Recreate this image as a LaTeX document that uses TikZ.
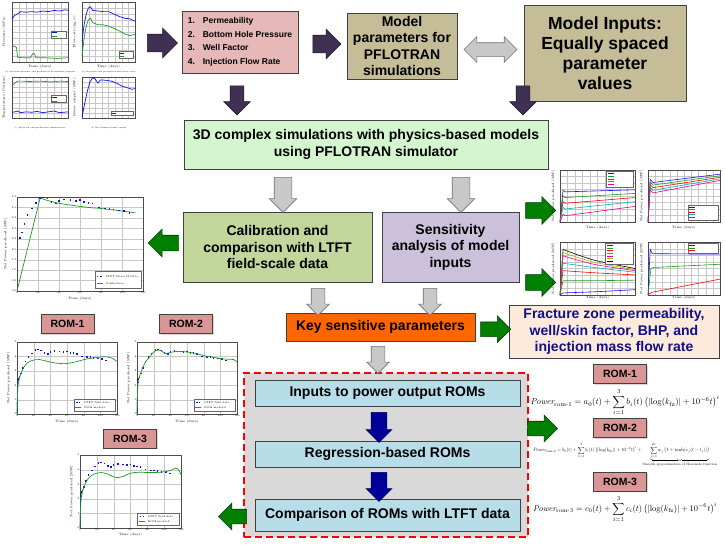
\documentclass[tikz,border=0pt]{standalone}
\usepackage{fontspec}
\usepackage{amsmath}
\newfontfamily\sansfont{Liberation Sans}
\usetikzlibrary{calc, positioning, shapes.arrows, shadows}

\newcommand{\boxfont}{\sansfont\bfseries\fontsize{14}{16.5}\selectfont}
\newcommand{\listfont}{\sansfont\bfseries\fontsize{8.5}{13.5}\selectfont}
\newcommand{\inputfont}{\sansfont\bfseries\fontsize{17.5}{20}\selectfont}
\newcommand{\romfont}{\sansfont\bfseries\fontsize{10.5}{12}\selectfont}
\newcommand{\tinyfont}{\fontsize{3.2}{3.6}\selectfont}
\newcommand{\tickfont}{\fontsize{2.6}{3}\selectfont}
\newcommand{\capfont}{\fontsize{2}{2.4}\selectfont}

\begin{document}
\begin{tikzpicture}[x=1pt, y=-1pt,
    box/.style={draw=black!75, line width=0.6pt, align=center, inner sep=1pt, font=\boxfont,
        drop shadow={opacity=0.3, shadow xshift=1.2pt, shadow yshift=-1.2pt}},
    romlabel/.style={box, fill=romPink, minimum width=53pt, minimum height=19pt, font=\romfont},
    blockarrow/.style n args={3}{single arrow, inner sep=0pt, minimum height=#1,
        inner ysep=#2, single arrow head extend=#3, single arrow head indent=0pt, line width=0.6pt},
    swaparrow/.style n args={3}{double arrow, inner sep=0pt, minimum height=#1,
        inner ysep=#2, double arrow head extend=#3, double arrow head indent=0pt, line width=0.6pt},
    purplefill/.style={draw=arrowPurple!60!black, fill=arrowPurple},
    grayfill/.style={draw=black!55, fill=arrowGray},
    greenfill/.style={draw=arrowGreen!45!black, fill=arrowGreen},
    bluefill/.style={draw=arrowBlue!60!black, fill=arrowBlue},
    plotgrid/.style={black!22, line width=0.2pt},
    axisframe/.style={black!70, line width=0.3pt},
    datacurve/.style={line width=0.7pt},
    axislabel/.style={font=\tinyfont, inner sep=0.5pt},
    ticklabel/.style={font=\tickfont, inner sep=0.4pt},
    legendbox/.style={draw=black!60, fill=white, line width=0.2pt}
]
    % Colours
    \definecolor{listPink}{HTML}{E6B9B8}
    \definecolor{paramTan}{HTML}{C4BD97}
    \definecolor{simGreen}{HTML}{D3F6CF}
    \definecolor{calibGreen}{HTML}{C3D69B}
    \definecolor{sensLilac}{HTML}{CCC1DA}
    \definecolor{keyOrange}{HTML}{FF6600}
    \definecolor{fracPeach}{HTML}{FDEADA}
    \definecolor{fracBlue}{HTML}{10108A}
    \definecolor{romBlue}{HTML}{B7DEE8}
    \definecolor{romPink}{HTML}{D99694}
    \definecolor{panelGray}{HTML}{D9D9D9}
    \definecolor{arrowPurple}{HTML}{403152}
    \definecolor{arrowGray}{HTML}{C8C8C8}
    \definecolor{arrowGreen}{HTML}{008000}
    \definecolor{arrowBlue}{HTML}{000099}
    \definecolor{lineGreen}{HTML}{1E9B1E}
    \definecolor{dataBlue}{HTML}{1010F0}
    \definecolor{lineTeal}{HTML}{00B0B0}
    \definecolor{lineOlive}{HTML}{B5B500}

    % Page
    \path[use as bounding box, fill=white] (0,0) rectangle (725,544);

    % Helper for the grid and frame of a plot in unit coordinates
    \def\plotframe#1#2{%
        \draw[plotgrid] (0,0) grid[xstep=#1, ystep=#2] (1,1);
        \draw[axisframe] (0,0) rectangle (1,1);}

    % Field data of the LTFT (days/MW)
    \def\fielddata{3/2.55, 5/2.8, 7/3.2, 10/3.65, 14/3.95, 18/4.2, 22/4.45, 25/4.48, 29/4.42,
        33/4.25, 37/4.18, 40/4.3, 45/4.38, 51/4.35, 56/4.32, 60/4.35, 64/4.25, 68/4.22,
        72/4.18, 78/4.0, 84/3.95, 88/3.95, 92/3.9, 97/3.85, 102/3.82, 107/3.72}

    % ---------------- Top-left plots of the simulation outputs ----------------
    \begin{scope}[shift={(12,62)}, x=56pt, y=60pt]
        \plotframe{0.125}{0.1}
        \draw[datacurve, dataBlue] plot coordinates {(0,0.72) (0.05,0.78) (0.1,0.8) (0.15,0.84)
            (0.25,0.83) (0.35,0.84) (0.45,0.83) (0.55,0.85) (0.65,0.84) (0.75,0.86) (0.85,0.85) (0.95,0.87) (1,0.86)};
        \draw[datacurve, lineGreen] plot coordinates {(0,0.24) (0.04,0.27) (0.08,0.24) (0.1,0.08) (0.2,0.07)
            (0.33,0.07) (0.37,0.14) (0.4,0.14) (0.43,0.07) (0.6,0.07) (0.8,0.06) (1,0.07)};
        \draw[legendbox] (0.7,0.4) rectangle (0.97,0.52);
        \draw[dataBlue, line width=0.5pt] (0.72,0.49) -- (0.8,0.49);
        \draw[lineGreen, line width=0.5pt] (0.72,0.43) -- (0.8,0.43);
        \node[axislabel, rotate=90] at (-0.14,0.5) {Pressure (MPa)};
        \node[axislabel] at (0.5,-0.07) {Time (days)};
        \node[font=\capfont] at (0.5,-0.17) {(a) Injection pressure and production bottomhole pressure};
    \end{scope}
    \begin{scope}[shift={(82,62)}, x=53pt, y=60pt]
        \plotframe{0.125}{0.1}
        \draw[datacurve, dataBlue] plot coordinates {(0,0.35) (0.04,0.62) (0.08,0.8) (0.12,0.9) (0.16,0.92)
            (0.2,0.86) (0.3,0.85) (0.4,0.84) (0.5,0.84) (0.6,0.8) (0.7,0.76) (0.8,0.73) (0.9,0.72) (1,0.68)};
        \draw[datacurve, lineGreen] plot coordinates {(0,0.1) (0.04,0.4) (0.08,0.6) (0.12,0.7) (0.16,0.73)
            (0.2,0.66) (0.3,0.62) (0.4,0.62) (0.5,0.6) (0.6,0.56) (0.7,0.52) (0.8,0.47) (0.9,0.44) (1,0.46)};
        \draw[legendbox] (0.7,0.06) rectangle (0.97,0.18);
        \draw[dataBlue, line width=0.5pt] (0.72,0.15) -- (0.8,0.15);
        \draw[lineGreen, line width=0.5pt] (0.72,0.09) -- (0.8,0.09);
        \node[axislabel, rotate=90] at (-0.14,0.5) {Flow rate (kg/s)};
        \node[axislabel] at (0.5,-0.07) {Time (days)};
        \node[font=\capfont] at (0.5,-0.17) {(b) Injection and production mass flow rates};
    \end{scope}
    \begin{scope}[shift={(12,118)}, x=56pt, y=41pt]
        \plotframe{0.125}{0.125}
        \draw[datacurve, lineGreen] plot coordinates {(0,0.78) (0.05,0.85) (0.1,0.9) (0.2,0.9) (0.3,0.89)
            (0.5,0.9) (0.7,0.88) (0.85,0.9) (1,0.89)};
        \draw[datacurve, dataBlue] plot coordinates {(0,0.14) (0.05,0.15) (0.1,0.17) (0.15,0.13) (0.25,0.15)
            (0.35,0.14) (0.45,0.16) (0.55,0.13) (0.65,0.15) (0.75,0.17) (0.85,0.13) (1,0.15)};
        \draw[legendbox] (0.7,0.38) rectangle (0.97,0.55);
        \draw[dataBlue, line width=0.5pt] (0.72,0.51) -- (0.8,0.51);
        \draw[lineGreen, line width=0.5pt] (0.72,0.42) -- (0.8,0.42);
        \node[axislabel, rotate=90] at (-0.14,0.5) {Temperature (Celsius)};
        \node[font=\capfont] at (0.5,-0.24) {(c) Injection and production temperatures};
    \end{scope}
    \begin{scope}[shift={(82,118)}, x=53pt, y=41pt]
        \plotframe{0.125}{0.125}
        \draw[datacurve, dataBlue] plot coordinates {(0,0.02) (0.05,0.35) (0.1,0.65) (0.15,0.88) (0.2,0.98)
            (0.25,0.95) (0.3,0.85) (0.35,0.93) (0.45,0.92) (0.55,0.9) (0.65,0.85) (0.75,0.78) (0.85,0.74)
            (0.95,0.7) (1,0.72)};
        \draw[legendbox] (0.55,0.06) rectangle (0.97,0.17);
        \draw[dataBlue, line width=0.5pt] (0.57,0.115) -- (0.65,0.115);
        \node[axislabel, rotate=90] at (-0.14,0.5) {Power output (MW)};
        \node[font=\capfont] at (0.5,-0.24) {(d) Net thermal power output};
    \end{scope}

    % ---------------- Boxes of the workflow ----------------
    \node[box, fill=listPink, minimum width=116pt, minimum height=62pt, align=left, font=\listfont] (list) at (240,42)
        {\makebox[15pt][l]{1.}Permeability\\
         \makebox[15pt][l]{2.}Bottom Hole Pressure\\
         \makebox[15pt][l]{3.}Well Factor\\
         \makebox[15pt][l]{4.}Injection Flow Rate};
    \node[box, fill=paramTan, minimum width=110pt, minimum height=66pt] (params) at (402,46)
        {Model\\parameters for\\PFLOTRAN\\simulations};
    \node[box, fill=paramTan, minimum width=162pt, minimum height=96pt, font=\inputfont] (inputs) at (605,53)
        {Model Inputs:\\Equally spaced\\parameter\\values};

    \node[box, fill=simGreen, minimum width=364pt, minimum height=49pt] (sim) at (366,144.5)
        {3D complex simulations with physics-based models\\using PFLOTRAN simulator};
    \node[box, fill=calibGreen, minimum width=189pt, minimum height=70pt] (calib) at (277.5,247)
        {Calibration and\\comparison with LTFT\\field-scale data};
    \node[box, fill=sensLilac, minimum width=137pt, minimum height=70pt] (sens) at (450.5,247)
        {Sensitivity\\analysis of model\\inputs};
    \node[box, fill=keyOrange, minimum width=189pt, minimum height=28pt] (key) at (380.5,327)
        {Key sensitive parameters};
    \node[box, fill=fracPeach, text=fracBlue, minimum width=210pt, minimum height=53pt] (frac) at (614,331.5)
        {Fracture zone permeability,\\well/skin factor, BHP, and\\injection mass flow rate};

    % Dashed panel of the ROM steps
    \node[draw=red, fill=panelGray, line width=1.8pt, dash pattern=on 7pt off 4pt,
        minimum width=284pt, minimum height=164pt] (panel) at (386,455) {};
    \node[box, fill=romBlue, minimum width=265pt, minimum height=26pt] (inputsrom) at (387.5,393)
        {Inputs to power output ROMs};
    \node[box, fill=romBlue, minimum width=265pt, minimum height=26pt] (regress) at (387.5,454)
        {Regression-based ROMs};
    \node[box, fill=romBlue, minimum width=265pt, minimum height=32pt] (compare) at (387.5,515)
        {Comparison of ROMs with LTFT data};

    % ---------------- Block arrows ----------------
    \node[blockarrow={30pt}{8.5pt}{6pt}, purplefill] (a1) at (158,43) {};
    \node[blockarrow={28pt}{8.5pt}{6pt}, purplefill] (a2) at ($(list.east)!0.5!(params.west)$) {};
    \node[swaparrow={53pt}{6.5pt}{6pt}, grayfill] (a3) at ($(params.east)!0.5!(inputs.west)$) {};
    \node[blockarrow={29pt}{6.5pt}{6.5pt}, purplefill, rotate=-90] (a4) at (237,97) {};
    \node[blockarrow={29pt}{6.5pt}{6.5pt}, purplefill, rotate=-90] (a5) at (523,97) {};

    \node[blockarrow={35pt}{8.5pt}{5pt}, grayfill, rotate=-90] (a6) at (283,190.5) {};
    \node[blockarrow={35pt}{8.5pt}{5pt}, grayfill, rotate=-90] (a7) at (461,190.5) {};
    \node[blockarrow={30pt}{7.5pt}{6pt}, greenfill, rotate=180] (a8) at ($(calib.west)+(-15.5,-4)$) {};
    \node[blockarrow={30pt}{7.5pt}{6pt}, greenfill] (a9) at ($(sens.east)+(17.5,-36.5)$) {};
    \node[blockarrow={30pt}{7.5pt}{6pt}, greenfill] (a10) at ($(sens.east)+(17.5,35.5)$) {};

    \node[blockarrow={27pt}{6.5pt}{4.5pt}, grayfill, rotate=-90] (a11) at (318,298.5) {};
    \node[blockarrow={27pt}{6.5pt}{4.5pt}, grayfill, rotate=-90] (a12) at (430,298.5) {};
    \node[blockarrow={30pt}{7pt}{6pt}, greenfill] (a13) at ($(key.east)!0.5!(frac.west)$) {};
    \node[blockarrow={27pt}{6.5pt}{4.5pt}, grayfill, rotate=-90] (a14) at (378,356.5) {};

    \node[blockarrow={30pt}{7.5pt}{5pt}, bluefill, rotate=-90] (a15) at ($(inputsrom.south)!0.5!(regress.north)+(-8.5,0)$) {};
    \node[blockarrow={29pt}{7.5pt}{5pt}, bluefill, rotate=-90] (a16) at ($(regress.south)!0.5!(compare.north)+(-8.5,0)$) {};
    \node[blockarrow={30pt}{7pt}{6pt}, greenfill] (a17) at ($(panel.east)+(10,-26.5)$) {};
    \node[blockarrow={28pt}{7pt}{6pt}, greenfill, rotate=180] (a18) at ($(compare.west)+(-18.5,1.5)$) {};

    % ---------------- Calibration plot ----------------
    \begin{scope}[shift={(17,291)}, x=1.05pt, y=20.89pt]
        \draw[plotgrid] (0,0) grid[xstep=20, ystep=0.5] (120,4.5);
        \draw[axisframe] (0,0) rectangle (120,4.5);
        \draw[datacurve, lineGreen] (0,0) -- (22,4.45) plot[smooth] coordinates {(22,4.45) (30,4.32) (40,4.2)
            (50,4.12) (60,4.05) (70,3.99) (80,3.95) (90,3.89) (100,3.83) (113,3.74)};
        \foreach \t/\p in \fielddata
            \fill[dataBlue] (\t,\p) ++(-0.8pt,-0.8pt) rectangle ++(1.6pt,1.6pt);
        \foreach \t in {0,20,...,120}
            \node[ticklabel, anchor=north] at (\t,0) {\t};
        \foreach \p in {0.0,0.5,1.0,1.5,2.0,2.5,3.0,3.5,4.0,4.5}
            \node[ticklabel, anchor=east] at (0,\p) {\p};
        \draw[legendbox] (74,0.12) rectangle (118,0.95);
        \fill[dataBlue] (77,0.7) ++(-0.6pt,-0.6pt) rectangle ++(1.2pt,1.2pt);
        \fill[dataBlue] (80,0.7) ++(-0.6pt,-0.6pt) rectangle ++(1.2pt,1.2pt);
        \draw[lineGreen, line width=0.6pt] (76,0.35) -- (82,0.35);
        \node[ticklabel, anchor=west] at (84,0.7) {LTFT Phase II Data};
        \node[ticklabel, anchor=west] at (84,0.35) {Calibration};
        \node[axislabel, rotate=90] at (-11,2.25) {Net Power produced [MW]};
        \node[axislabel] at (60,-0.35) {Time (days)};
    \end{scope}

    % ---------------- Sensitivity plots ----------------
    \begin{scope}[shift={(560,222)}, x=75pt, y=52pt]
        \plotframe{0.1}{0.125}
        \foreach \c/\a/\b in {dataBlue/0.58/0.62, lineGreen/0.47/0.55, red/0.36/0.47, lineTeal/0.25/0.39, magenta/0.12/0.3}
            \draw[\c, line width=0.6pt] (0,0) -- (0.04,\a+0.03) -- (0.07,\a) -- (1,\b);
        \draw[legendbox] (0.62,0.68) rectangle (0.97,0.97);
        \foreach \c [count=\k] in {dataBlue, lineGreen, red, lineTeal, magenta}
            \draw[\c, line width=0.5pt] (0.64,{0.98-0.05*\k}) -- (0.72,{0.98-0.05*\k});
        \node[axislabel, rotate=90] at (-0.09,0.5) {Net Power produced [MW]};
        \node[axislabel] at (0.5,-0.1) {Time (days)};
    \end{scope}
    \begin{scope}[shift={(648,222)}, x=72pt, y=52pt]
        \plotframe{0.1}{0.125}
        \foreach \c/\a/\b in {dataBlue/0.76/0.92, lineGreen/0.71/0.89, red/0.66/0.86, lineTeal/0.61/0.83, magenta/0.56/0.8}
            \draw[\c, line width=0.6pt] (0,0) -- (0.03,\a+0.06) -- (0.07,\a) -- (1,\b);
        \draw[legendbox] (0.55,0.04) rectangle (0.97,0.33);
        \foreach \c [count=\k] in {dataBlue, lineGreen, red, lineTeal, magenta}
            \draw[\c, line width=0.5pt] (0.57,{0.34-0.05*\k}) -- (0.65,{0.34-0.05*\k});
        \node[axislabel, rotate=90] at (-0.09,0.5) {Net Power produced [MW]};
        \node[axislabel] at (0.5,-0.1) {Time (days)};
    \end{scope}
    \begin{scope}[shift={(560,295)}, x=75pt, y=53pt]
        \plotframe{0.1}{0.125}
        \foreach \c/\a/\m/\b in {black/0.86/0.66/0.5, lineOlive/0.8/0.62/0.48, magenta/0.74/0.58/0.46,
                lineTeal/0.6/0.52/0.43, red/0.46/0.42/0.38, lineGreen/0.27/0.27/0.28, dataBlue/0.04/0.06/0.1}
            \draw[\c, line width=0.6pt] (0,0) -- (0.04,\a) plot[smooth] coordinates {(0.04,\a) (0.45,\m) (1,\b)};
        \draw[legendbox] (0.6,0.58) rectangle (0.97,0.98);
        \foreach \c [count=\k] in {dataBlue, lineGreen, red, lineTeal, magenta, lineOlive, black}
            \draw[\c, line width=0.5pt] (0.62,{0.99-0.05*\k}) -- (0.7,{0.99-0.05*\k});
        \node[axislabel, rotate=90] at (-0.09,0.5) {Net Power produced [MW]};
        \node[axislabel] at (0.5,-0.06) {Time (days)};
    \end{scope}
    \begin{scope}[shift={(648,295)}, x=72pt, y=53pt]
        \plotframe{0.1}{0.125}
        \draw[dataBlue, line width=0.6pt] (0,0) -- (0.03,0.86) -- (0.06,0.78) -- (1,0.77);
        \draw[lineGreen, line width=0.6pt] (0,0) -- (0.04,0.5) -- (0.08,0.52) -- (1,0.58);
        \draw[red, line width=0.6pt] (0,0) -- (0.05,0.05) -- (1,0.3);
        \draw[legendbox] (0.55,0.8) rectangle (0.97,0.98);
        \foreach \c [count=\k] in {dataBlue, lineGreen, red}
            \draw[\c, line width=0.5pt] (0.57,{0.99-0.05*\k}) -- (0.65,{0.99-0.05*\k});
        \node[axislabel, rotate=90] at (-0.09,0.5) {Net Power produced [MW]};
        \node[axislabel] at (0.5,-0.06) {Time (days)};
    \end{scope}

    % ---------------- ROM plots on the left ----------------
    \node[romlabel] (rom1left) at (67.5,324) {ROM-1};
    \node[romlabel] (rom2left) at (186,324) {ROM-2};
    \node[romlabel] (rom3left) at (130,438.5) {ROM-3};

    \begin{scope}[shift={(17,414)}, x=0.8333pt, y=14.4pt]
        \draw[plotgrid] (0,0) grid[xstep=20, ystep=1] (120,5);
        \draw[axisframe] (0,0) rectangle (120,5);
        \draw[dataBlue, line width=0.5pt] (0,0) -- (0.5,1.9);
        \foreach \t/\p in {0.5/1.9, 1/2.2, 1.5/2.35, 2/2.45}
            \fill[dataBlue] (\t,\p) ++(-0.8pt,-0.8pt) rectangle ++(1.6pt,1.6pt);
        \foreach \t/\p in \fielddata
            \fill[dataBlue] (\t,\p) ++(-0.8pt,-0.8pt) rectangle ++(1.6pt,1.6pt);
        \draw[datacurve, lineGreen] plot[smooth] coordinates {(0,0) (1,1.8) (3,2.5) (6,3.0) (10,3.4) (15,3.65)
            (20,3.75) (27,3.78) (35,3.68) (45,3.55) (58,3.5) (70,3.62) (82,3.8) (95,3.92) (105,3.98) (113,3.9) (120,3.65)};
        \draw[legendbox] (68,0.2) rectangle (118,1.05);
        \fill[dataBlue] (72,0.8) ++(-0.6pt,-0.6pt) rectangle ++(1.2pt,1.2pt);
        \fill[dataBlue] (75,0.8) ++(-0.6pt,-0.6pt) rectangle ++(1.2pt,1.2pt);
        \draw[lineGreen, line width=0.6pt] (70,0.45) -- (77,0.45);
        \node[ticklabel, anchor=west] at (80,0.8) {LTFT field data};
        \node[ticklabel, anchor=west] at (80,0.45) {ROM model-1};
        \foreach \t in {0,20,...,120}
            \node[ticklabel, anchor=north] at (\t,0) {\t};
        \foreach \p in {0,...,5}
            \node[ticklabel, anchor=east] at (0,\p) {\p};
        \node[axislabel, rotate=90] at (-10,2.5) {Net Power produced [MW]};
        \node[axislabel] at (60,-0.5) {Time (days)};
    \end{scope}
    \begin{scope}[shift={(137,414)}, x=0.8333pt, y=14.4pt]
        \draw[plotgrid] (0,0) grid[xstep=20, ystep=1] (120,5);
        \draw[axisframe] (0,0) rectangle (120,5);
        \draw[dataBlue, line width=0.5pt] (0,0) -- (0.5,1.9);
        \foreach \t/\p in {0.5/1.9, 1/2.2, 1.5/2.35, 2/2.45}
            \fill[dataBlue] (\t,\p) ++(-0.8pt,-0.8pt) rectangle ++(1.6pt,1.6pt);
        \foreach \t/\p in \fielddata
            \fill[dataBlue] (\t,\p) ++(-0.8pt,-0.8pt) rectangle ++(1.6pt,1.6pt);
        \draw[datacurve, lineGreen] plot[smooth] coordinates {(0,0) (1,2.0) (3,2.6) (6,3.1) (10,3.6) (15,3.95)
            (20,4.3) (25,4.45) (30,4.35) (35,4.2) (40,4.28) (50,4.35) (60,4.3) (70,4.22) (80,4.05) (90,3.95)
            (100,3.85) (110,3.8) (116,3.78) (120,3.6)};
        \draw[legendbox] (68,0.2) rectangle (118,1.05);
        \fill[dataBlue] (72,0.8) ++(-0.6pt,-0.6pt) rectangle ++(1.2pt,1.2pt);
        \fill[dataBlue] (75,0.8) ++(-0.6pt,-0.6pt) rectangle ++(1.2pt,1.2pt);
        \draw[lineGreen, line width=0.6pt] (70,0.45) -- (77,0.45);
        \node[ticklabel, anchor=west] at (80,0.8) {LTFT field data};
        \node[ticklabel, anchor=west] at (80,0.45) {ROM model-2};
        \foreach \t in {0,20,...,120}
            \node[ticklabel, anchor=north] at (\t,0) {\t};
        \foreach \p in {0,...,5}
            \node[ticklabel, anchor=east] at (0,\p) {\p};
        \node[axislabel, rotate=90] at (-10,2.5) {Net Power produced [MW]};
        \node[axislabel] at (60,-0.5) {Time (days)};
    \end{scope}
    \begin{scope}[shift={(80,528)}, x=0.8417pt, y=14.6pt]
        \draw[plotgrid] (0,0) grid[xstep=20, ystep=1] (120,5);
        \draw[axisframe] (0,0) rectangle (120,5);
        \draw[dataBlue, line width=0.5pt] (0,0) -- (0.5,1.9);
        \foreach \t/\p in {0.5/1.9, 1/2.2, 1.5/2.35, 2/2.45}
            \fill[dataBlue] (\t,\p) ++(-0.8pt,-0.8pt) rectangle ++(1.6pt,1.6pt);
        \foreach \t/\p in \fielddata
            \fill[dataBlue] (\t,\p) ++(-0.8pt,-0.8pt) rectangle ++(1.6pt,1.6pt);
        \draw[datacurve, lineGreen] plot[smooth] coordinates {(0,0) (1,1.8) (3,2.5) (6,3.0) (10,3.4) (15,3.65)
            (20,3.75) (25,3.8) (32,3.72) (40,3.5) (45,3.45) (52,3.55) (60,3.75) (70,3.82) (80,3.8) (90,3.8)
            (100,3.85) (108,3.95) (113,4.1) (117,4.0) (120,3.65)};
        \draw[legendbox] (68,0.2) rectangle (118,1.05);
        \fill[dataBlue] (72,0.8) ++(-0.6pt,-0.6pt) rectangle ++(1.2pt,1.2pt);
        \fill[dataBlue] (75,0.8) ++(-0.6pt,-0.6pt) rectangle ++(1.2pt,1.2pt);
        \draw[lineGreen, line width=0.6pt] (70,0.45) -- (77,0.45);
        \node[ticklabel, anchor=west] at (80,0.8) {LTFT field data};
        \node[ticklabel, anchor=west] at (80,0.45) {ROM model-3};
        \foreach \t in {0,20,...,120}
            \node[ticklabel, anchor=north] at (\t,0) {\t};
        \foreach \p in {0,...,5}
            \node[ticklabel, anchor=east] at (0,\p) {\p};
        \node[axislabel, rotate=90] at (-10,2.5) {Net Power produced [MW]};
        \node[axislabel] at (60,-0.45) {Time (days)};
    \end{scope}

    % ---------------- ROM equations on the right ----------------
    \node[romlabel] (rom1right) at (620,374) {ROM-1};
    \node[romlabel] (rom2right) at (620,428) {ROM-2};
    \node[romlabel] (rom3right) at (620,481.5) {ROM-3};

    \node[inner sep=0pt, anchor=north] (eq1) at (625,389)
        {\resizebox{189pt}{!}{$\mathit{Power}_{\text{rom-1}} = a_0(t) + \displaystyle\sum_{i=1}^{3} b_i(t)\,\bigl(\lvert\log(k_{\text{fz}})\rvert + 10^{-6}t\bigr)^{i}$}};
    \node[inner sep=0pt, anchor=north] (eq2) at (625,443)
        {\resizebox{184pt}{!}{$\mathit{Power}_{\text{rom-2}} = b_0(t) + \displaystyle\sum_{i=1}^{3} b_i(t)\,\bigl(\lvert\log(k_{\text{fz}})\rvert + 10^{-6}t\bigr)^{i}
        + \underbrace{\sum_{j=1}^{20} w_j\,\bigl(1+\tanh(v_j(t-t_j))\bigr)}_{\text{Smooth approximation of Heaviside function}}$}};
    \node[inner sep=0pt, anchor=north] (eq3) at (625,496)
        {\resizebox{184pt}{!}{$\mathit{Power}_{\text{rom-3}} = c_0(t) + \displaystyle\sum_{i=1}^{3} c_i(t)\,\bigl(\lvert\log(k_{\text{fz}})\rvert + 10^{-6}t\bigr)^{i}$}};

\end{tikzpicture}
\end{document}
